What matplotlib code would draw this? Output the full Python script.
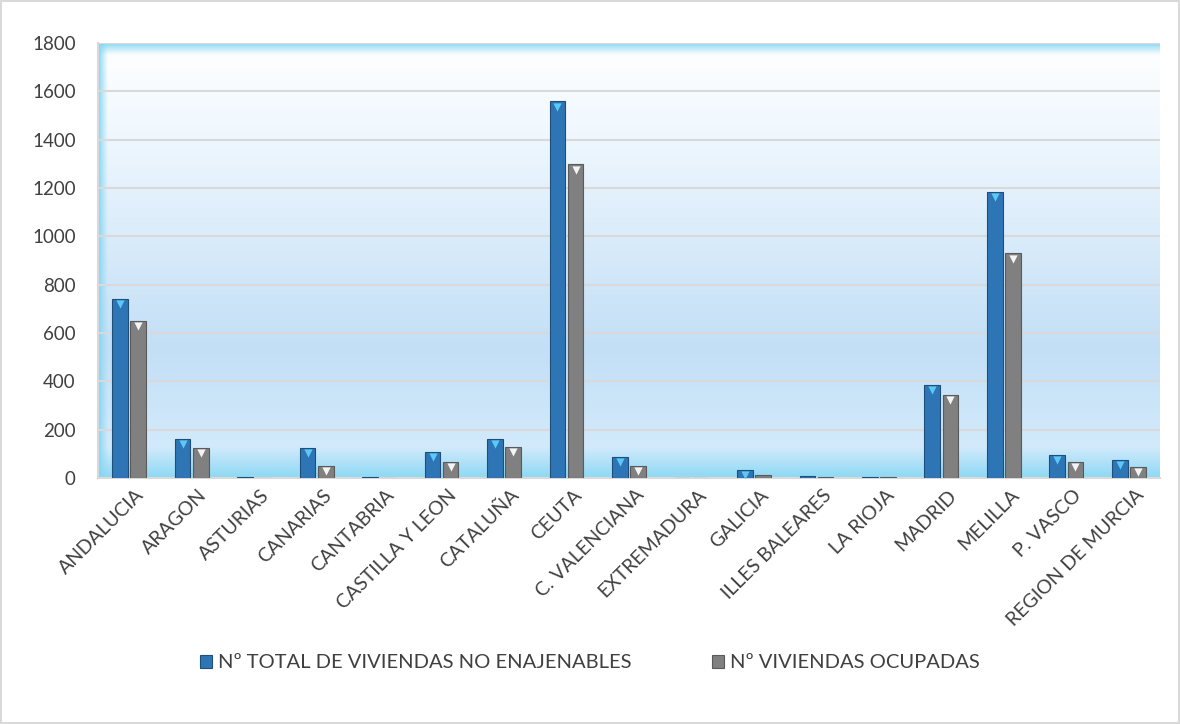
import matplotlib.pyplot as plt
import matplotlib.colors as mcolors
import numpy as np

# Data
regions = [
    "ANDALUCIA", "ARAGON", "ASTURIAS", "CANARIAS", "CANTABRIA",
    "CASTILLA Y LEON", "CATALUÑA", "CEUTA", "C. VALENCIANA", "EXTREMADURA",
    "GALICIA", "ILLES BALEARES", "LA RIOJA", "MADRID", "MELILLA",
    "P. VASCO", "REGION DE MURCIA",
]
total_no_enajenables = [742, 161, 3, 124, 3, 108, 161, 1558, 87, 0, 33, 10, 3, 385, 1185, 95, 74]
ocupadas = [650, 124, 2, 50, 2, 66, 128, 1298, 50, 0, 12, 4, 3, 345, 930, 66, 46]
series_names = ["Nº TOTAL DE VIVIENDAS NO ENAJENABLES", "Nº VIVIENDAS OCUPADAS"]

plt.rcParams['font.family'] = ['Lato', 'DejaVu Sans']

fig = plt.figure(figsize=(11.8, 7.24), dpi=100)
fig.patch.set_facecolor("white")
fig.patch.set_edgecolor("#D9D9D9")
fig.patch.set_linewidth(1.5)

ax = fig.add_axes([98 / 1180, 1 - 478 / 724, 1062 / 1180, 435 / 724])

# gradient background (white at top, light blue lower, cyan at the floor)
grad = mcolors.LinearSegmentedColormap.from_list(
    "bg", [(0.0, "#FFFFFF"), (0.2, "#F0F8FE"), (0.7, "#C3DFF6"),
           (0.93, "#D2EAFB"), (1.0, "#8ED9F5")])
ax.imshow(np.linspace(0, 1, 256).reshape(-1, 1), cmap=grad, aspect="auto",
          extent=[-0.5, len(regions) - 0.5, 0, 1800], origin="upper", zorder=0)
edge = mcolors.LinearSegmentedColormap.from_list(
    "edge", [(0, (0.50, 0.84, 0.96, 1.0)), (1, (0.55, 0.85, 0.96, 0.0))])
ax.imshow(np.linspace(0, 1, 64).reshape(1, -1), cmap=edge, aspect="auto",
          extent=[-0.5, -0.35, 0, 1800], zorder=0.5)
ax.imshow(np.linspace(0, 1, 64).reshape(-1, 1), cmap=edge, aspect="auto",
          extent=[-0.5, len(regions) - 0.5, 1750, 1800], origin="upper", zorder=0.5)

x = np.arange(len(regions))
w = 0.25
ax.bar(x - w / 2 - 0.02, total_no_enajenables, width=w, color="#2E75B6",
       edgecolor="#1F4E79", linewidth=0.8, zorder=3, label=series_names[0])
ax.bar(x + w / 2 + 0.02, ocupadas, width=w, color="#808080",
       edgecolor="#5A5A5A", linewidth=0.8, zorder=3, label=series_names[1])

# bevelled tops
tb = np.array(total_no_enajenables)
to = np.array(ocupadas)
ax.scatter((x - w / 2 - 0.02)[tb > 20], tb[tb > 20] - 22, marker="v", s=35,
           color="#5BC8F5", zorder=4, linewidths=0)
ax.scatter((x + w / 2 + 0.02)[to > 20], to[to > 20] - 22, marker="v", s=35,
           color="#F4F4F4", zorder=4, linewidths=0)

ax.set_xlim(-0.5, len(regions) - 0.5)
ax.set_ylim(0, 1800)
ax.set_yticks(range(0, 1801, 200))
ax.yaxis.grid(True, color="#D9D9D9", linewidth=1.5, zorder=1)
ax.set_axisbelow(True)
ax.tick_params(axis="y", length=0, labelsize=13.5, pad=16, colors="#404040")
# labels sit a little right of the category centre (ticks are hidden)
ax.set_xticks(x + 0.1)
ax.set_xticklabels(regions, rotation=45, ha="right", rotation_mode="anchor",
                   fontsize=14, color="#404040")
ax.tick_params(axis="x", length=0, pad=6)
for s in ["top", "right"]:
    ax.spines[s].set_visible(False)
ax.spines["left"].set_color("#D9D9D9")
ax.spines["bottom"].set_color("#D9D9D9")
ax.spines["left"].set_linewidth(1.5)
ax.spines["bottom"].set_linewidth(1.5)

leg = fig.legend(loc="center", bbox_to_anchor=(0.5, 1 - 663 / 724), ncol=2,
                 frameon=False, fontsize=14.5, handlelength=0.6, handleheight=0.6,
                 columnspacing=4.0, handletextpad=0.3)
for t in leg.get_texts():
    t.set_color("#404040")

fig.savefig("out.png", dpi=100)
